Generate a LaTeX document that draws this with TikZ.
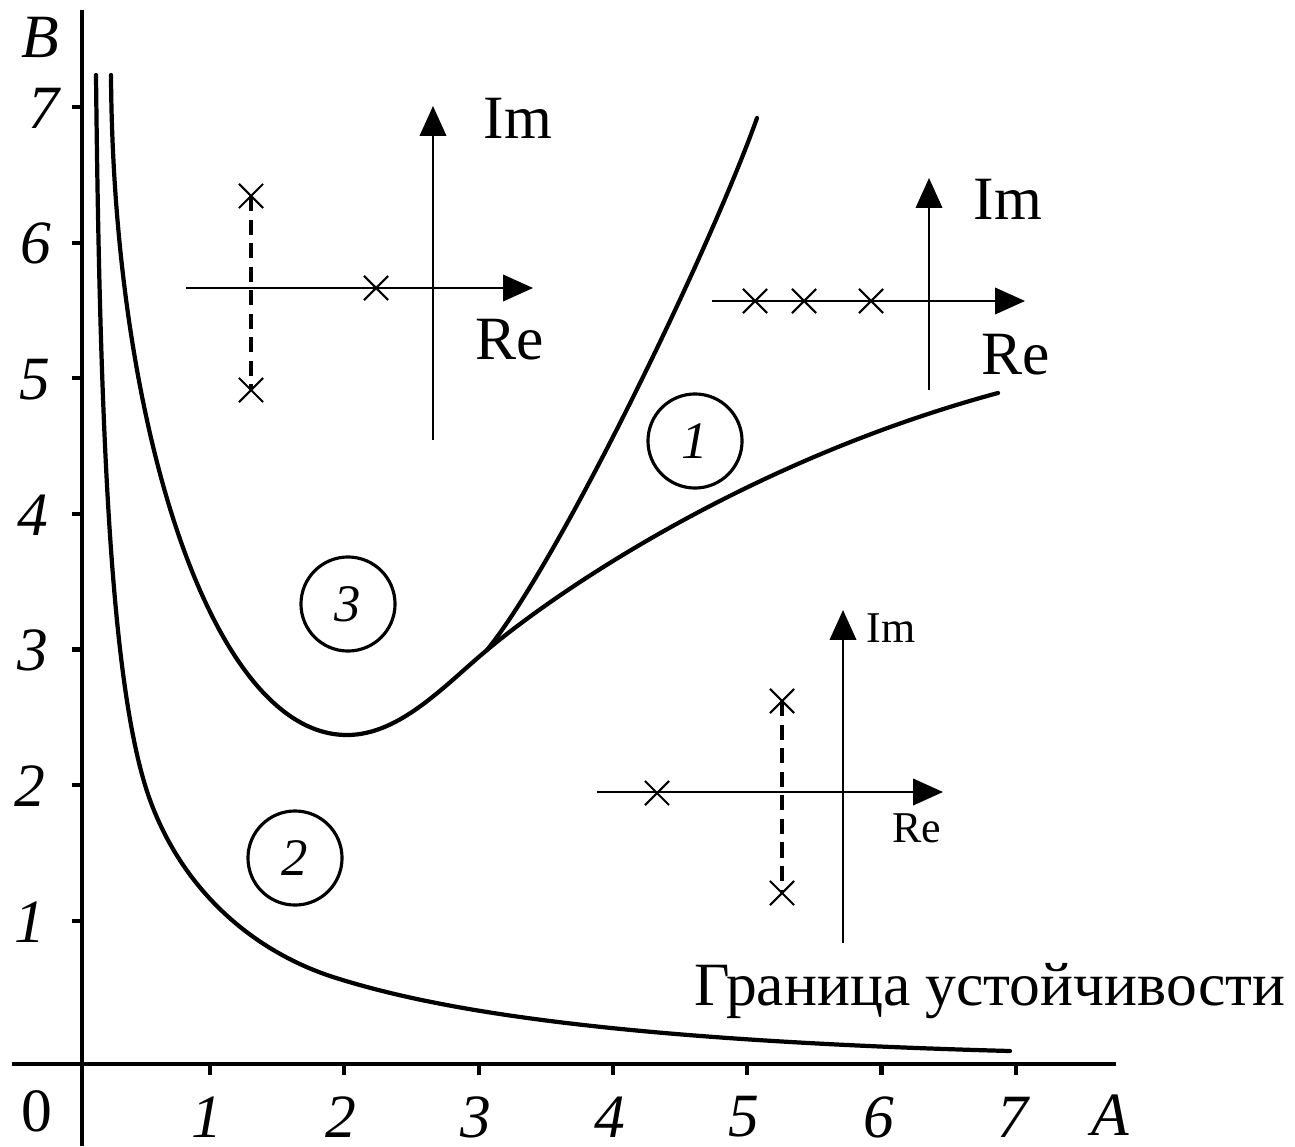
\documentclass[tikz,border=0pt]{standalone}
\usepackage{fontspec}
\setmainfont{Liberation Serif}
\usetikzlibrary{arrows.meta, positioning, shapes.misc}

\begin{document}
\begin{tikzpicture}[x=0.01cm, y=-0.01cm,
  big/.style={font=\fontsize{17.5}{21}\selectfont},
  bigit/.style={font=\fontsize{17.5}{21}\selectfont\itshape},
  small/.style={font=\fontsize{12.5}{15}\selectfont},
  curve/.style={line width=1.2pt, line cap=round},
  mainaxis/.style={line width=1.2pt},
  planeaxis/.style={line width=0.7pt, -{Triangle[length=8.5pt,width=7.5pt]}},
  pole/.style={cross out, draw, line width=0.6pt, minimum size=0.22cm, inner sep=0pt},
  polepath/.style={line width=0.9pt, dash pattern=on 4.3pt off 2.4pt},
  region/.style={circle, draw, line width=0.9pt, minimum size=0.94cm, inner sep=0pt,
    font=\fontsize{15}{18}\selectfont\itshape}]
  \useasboundingbox (0,0) rectangle (1295,1146);

  % axes A and B
  \coordinate (xl) at (12,1064);
  \coordinate (xr) at (1116,1064);
  \coordinate (ybot) at (82,1146);
  \coordinate (ytop) at (82,10);
  \draw[mainaxis] (xl) -- (xr);
  \draw[mainaxis] (ybot) -- (ytop);
  \foreach \k in {1,...,7} {
    \draw[mainaxis] (75.7+134.3*\k,1064) -- ++(0,11);
    \node[bigit] (xlab\k) at (72.7+134.3*\k,1117) {\k};
  }
  \foreach \k/\xx in {1/30,2/30,3/33,4/33,5/35,6/36,7/44} {
    \draw[mainaxis] (72,1056.3-135.6*\k) -- (82,1056.3-135.6*\k);
    \node[bigit] (ylab\k) at (\xx,1057.3-135.6*\k) {\k};
  }
  \node[bigit] (labB) at (40,37) {B};
  \node[bigit] (labA) at (1110,1115) {A};
  \node[big] (lab0) at (37,1111) {0};

  % stability boundary
  \coordinate (sb0) at (96,75);
  \coordinate (sb1) at (150,800);
  \coordinate (sb2) at (333,977);
  \coordinate (sb3) at (1010,1051);
  \draw[curve] (sb0) .. controls (100,450) and (112,695) .. (sb1)
    .. controls (182,888) and (250,950) .. (sb2)
    .. controls (430,1008) and (600,1040) .. (sb3);
  % region borders
  \coordinate (rb0) at (111,75);
  \coordinate (rbmin) at (347,735);
  \coordinate (cusp) at (487,650);
  \coordinate (rbend) at (998,393);
  \coordinate (rbtop) at (757,118);
  \draw[curve] (rb0) .. controls (113,420) and (210,735) .. (rbmin)
    .. controls (400,735) and (445,685) .. (cusp)
    .. controls (560,589) and (750,460) .. (rbend);
  \draw[curve] (cusp) .. controls (560,560) and (710,250) .. (rbtop);

  \node[region] (reg1) at (695,441) {1};
  \node[region] (reg2) at (295,858) {2};
  \node[region] (reg3) at (348,604) {3};

  % root plane, region 3
  \coordinate (w3) at (186,288);
  \coordinate (e3) at (533,288);
  \coordinate (s3) at (433,440);
  \coordinate (n3) at (433,106);
  \draw[planeaxis] (w3) -- (e3);
  \draw[planeaxis] (s3) -- (n3);
  \node[big] (im3) at (518,118) {Im};
  \node[big] (re3) at (510,340) {Re};
  \node[pole] (p3a) at (376,288) {};
  \node[pole] (p3b) at (251,196) {};
  \node[pole] (p3c) at (251,390) {};
  \draw[polepath] (p3b.center) -- (p3c.center);

  % root plane, region 1
  \coordinate (w1) at (712,301);
  \coordinate (e1) at (1025,301);
  \coordinate (s1) at (929,390);
  \coordinate (n1) at (929,178);
  \draw[planeaxis] (w1) -- (e1);
  \draw[planeaxis] (s1) -- (n1);
  \node[big] (im1) at (1008,199) {Im};
  \node[big] (re1) at (1016,355) {Re};
  \node[pole] (p1a) at (755,301) {};
  \node[pole] (p1b) at (804,301) {};
  \node[pole] (p1c) at (871,301) {};

  % root plane, region 2
  \coordinate (w2) at (597,792);
  \coordinate (e2) at (943,792);
  \coordinate (s2) at (843,943);
  \coordinate (n2) at (843,610);
  \draw[planeaxis] (w2) -- (e2);
  \draw[planeaxis] (s2) -- (n2);
  \node[small] (im2) at (891,628) {Im};
  \node[small] (re2) at (917,828) {Re};
  \node[pole] (p2a) at (657,793) {};
  \node[pole] (p2b) at (782,701) {};
  \node[pole] (p2c) at (782,893) {};
  \draw[polepath] (p2b.center) -- (p2c.center);

  \node[big, anchor=base west] (border) at (682,1005) {Граница устойчивости};
\end{tikzpicture}
\end{document}
